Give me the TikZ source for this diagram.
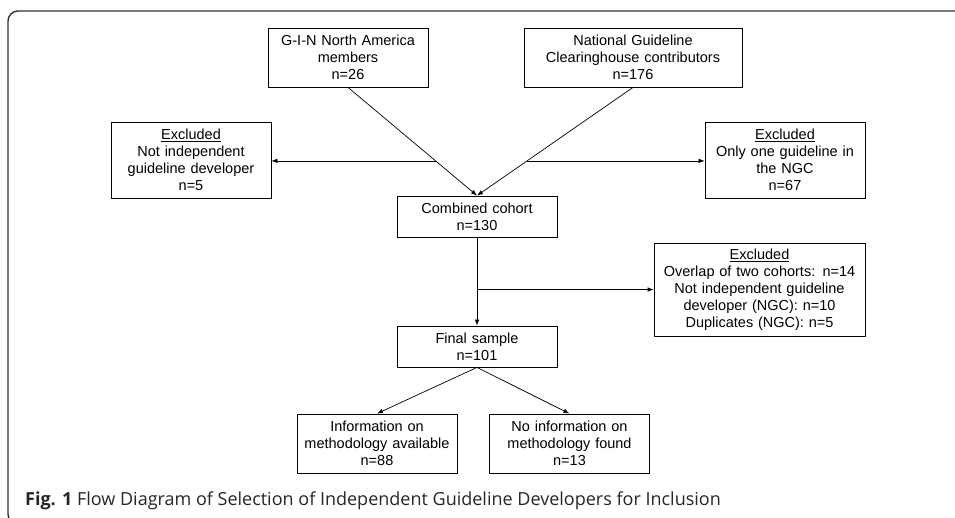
\documentclass[tikz,border=0pt]{standalone}
\usepackage{fontspec}
\setmainfont{Liberation Sans}
\newfontfamily\capfont{Open Sans}
\usetikzlibrary{arrows.meta,positioning,calc}

\begin{document}
\begin{tikzpicture}[
    x=1pt, y=-1pt,
    node distance=60pt,
    box/.style={rectangle, draw, line width=0.8pt, text width=154pt, align=center, inner sep=3pt,
        font=\fontsize{14.5}{17}\selectfont},
    boxtwo/.style={box, minimum height=41pt},
    boxthree/.style={box, minimum height=59pt},
    boxfour/.style={box, minimum height=76pt},
    line/.style={draw, line width=0.7pt, -{Latex[length=6pt,width=4.5pt]}}
]
\useasboundingbox (0,0) rectangle (955,517);

% Frame
\draw[rounded corners=10pt, line width=1.4pt, black!80] (8,11) rectangle (975,524);

% Sources
\node [boxthree] (gin) at (348,57.5) {G-I-N North America\\members\\n=26};
\node [boxthree, text width=212pt, right of=gin, xshift=225pt] (ngc) {National Guideline\\Clearinghouse contributors\\n=176};

% First exclusions
\node [boxfour, below of=gin, xshift=-157pt, yshift=-42.5pt] (exl) {\underline{Excluded}\\Not independent\\guideline developer\\n=5};
\node [boxfour, below of=ngc, xshift=152pt, yshift=-42.5pt] (exr) {\underline{Excluded}\\Only one guideline in\\the NGC\\n=67};

% Combined cohort
\node [boxtwo, below of=gin, xshift=129pt, yshift=-99pt] (comb) {Combined cohort\\n=130};

% Final sample
\node [boxtwo, below of=comb, yshift=-70pt] (final) {Final sample\\n=101};

% Second exclusion
\node [box, text width=205pt, minimum height=93pt, right of=final, xshift=222.5pt, yshift=57pt] (exb) {\underline{Excluded}\\Overlap of two cohorts: n=14\\Not independent guideline\\developer (NGC): n=10\\Duplicates (NGC): n=5};

% Methodology
\node [boxthree, below of=final, xshift=-100pt, yshift=-37pt] (info) {Information on\\methodology available\\n=88};
\node [boxthree, below of=final, xshift=92.5pt, yshift=-37pt] (noinfo) {No information on\\methodology found\\n=13};

% Connections
\coordinate (jl) at ($(gin.south)!0.679!(comb.north)$);
\coordinate (jr) at ($(ngc.south)!0.679!(comb.north)$);
\coordinate (jb) at (comb.south |- exb.west);

\path [line] (gin.south) -- (comb.north);
\path [line] (ngc.south) -- (comb.north);
\path [line] (jl) -- (jl -| exl.east);
\path [line] (jr) -- (jr -| exr.west);

\path [line] (comb) -- (final);
\path [line] (jb) -- (exb.west);

\path [line] (final.south) -- (info.north);
\path [line] (final.south) -- (noinfo.north);

% Caption
\node [anchor=base west, inner sep=0pt, text=black!85, font=\capfont\fontsize{18}{20}\selectfont] (cap) at (25,505)
    {\textbf{Fig. 1} Flow Diagram of Selection of Independent Guideline Developers for Inclusion};

\end{tikzpicture}
\end{document}
